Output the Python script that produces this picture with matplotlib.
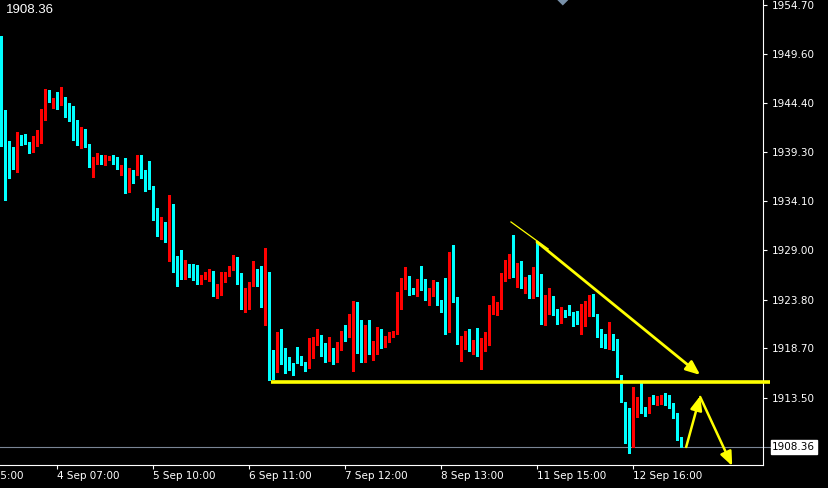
# XAUUSD H1 chart, MT4 style, with the support line and arrows drawn on it
import matplotlib
matplotlib.use("Agg")
import matplotlib.pyplot as plt
import matplotlib.transforms as mtransforms
from matplotlib.patches import Polygon

# H1 candles, oldest first
opens = [1949.77, 1943.69, 1939.91, 1938.76, 1938.03, 1940.96, 1940.86, 1940.23, 1939.28, 1940.33,
         1940.65, 1942.74, 1945.47, 1944.63, 1944.84, 1944.21, 1944.95, 1943.69, 1943.79, 1940.86,
         1940.33, 1941.59, 1939.91, 1938.13, 1938.24, 1938.76, 1938.34, 1938.55, 1938.66, 1938.24,
         1937.50, 1937.92, 1935.82, 1937.08, 1936.87, 1938.55, 1937.19, 1936.77, 1935.62, 1933.41,
         1930.69, 1931.11, 1930.48, 1933.83, 1927.86, 1927.54, 1925.97, 1927.33, 1926.60, 1926.07,
         1925.76, 1926.18, 1926.28, 1926.60, 1924.40, 1924.71, 1926.28, 1926.39, 1927.02, 1928.17,
         1926.07, 1922.93, 1924.71, 1925.24, 1926.60, 1925.45, 1923.14, 1926.70, 1918.32, 1916.74,
         1920.10, 1917.79, 1917.79, 1916.85, 1917.90, 1917.69, 1917.27, 1916.85, 1919.57, 1919.78,
         1919.89, 1918.95, 1917.48, 1918.53, 1918.32, 1918.84, 1920.31, 1919.99, 1921.78, 1923.35,
         1920.20, 1918.11, 1921.15, 1918.11, 1918.53, 1920.52, 1918.84, 1919.57, 1919.89, 1920.41,
         1923.66, 1925.87, 1925.97, 1925.03, 1924.40, 1925.66, 1925.34, 1924.08, 1924.61, 1925.24,
         1923.56, 1923.03, 1920.41, 1928.49, 1923.66, 1919.57, 1919.68, 1920.62, 1918.53, 1919.99,
         1918.32, 1918.84, 1920.10, 1922.30, 1922.62, 1923.14, 1926.28, 1927.44, 1927.75, 1926.18,
         1927.65, 1925.13, 1925.66, 1925.03, 1927.12, 1925.76, 1922.30, 1922.93, 1923.35, 1922.41,
         1921.57, 1922.51, 1922.72, 1922.30, 1921.67, 1921.36, 1921.67, 1922.83, 1923.66, 1922.20,
         1920.31, 1920.10, 1919.05, 1919.89, 1919.05, 1915.80, 1913.07, 1909.82, 1908.36, 1911.92,
         1912.45, 1912.34, 1911.92, 1913.49, 1912.97, 1912.97, 1913.49, 1912.97, 1912.66, 1911.50,
         1909.41]
highs = [1951.45, 1943.69, 1940.44, 1939.81, 1941.38, 1941.07, 1941.17, 1940.33, 1940.96, 1941.59,
         1943.79, 1945.89, 1945.78, 1944.95, 1945.58, 1946.10, 1945.05, 1944.42, 1944.11, 1942.64,
         1941.91, 1941.70, 1940.12, 1938.76, 1939.18, 1938.97, 1938.97, 1938.87, 1938.97, 1938.76,
         1937.92, 1938.66, 1937.61, 1937.40, 1938.97, 1938.97, 1937.40, 1938.34, 1935.72, 1933.41,
         1932.47, 1931.95, 1934.78, 1933.83, 1928.38, 1929.01, 1927.96, 1927.54, 1927.54, 1927.44,
         1926.39, 1926.70, 1927.02, 1926.81, 1925.45, 1926.70, 1926.70, 1927.33, 1928.49, 1928.28,
         1926.60, 1925.03, 1925.66, 1927.86, 1927.02, 1927.33, 1929.22, 1926.70, 1918.53, 1920.41,
         1920.73, 1918.74, 1917.79, 1917.17, 1918.84, 1917.90, 1917.27, 1919.78, 1919.89, 1920.73,
         1920.10, 1919.26, 1919.89, 1918.74, 1919.36, 1920.52, 1921.15, 1922.30, 1923.66, 1923.56,
         1921.67, 1921.15, 1921.67, 1919.47, 1920.94, 1920.73, 1919.99, 1920.41, 1920.52, 1924.61,
         1926.07, 1927.23, 1926.28, 1925.03, 1925.97, 1927.33, 1925.97, 1925.03, 1925.87, 1925.66,
         1923.77, 1926.07, 1928.80, 1929.53, 1924.08, 1919.99, 1920.52, 1920.73, 1919.57, 1920.83,
         1919.78, 1920.41, 1923.24, 1924.19, 1923.56, 1926.60, 1927.96, 1928.59, 1930.58, 1927.65,
         1927.86, 1926.18, 1926.39, 1927.23, 1929.85, 1926.49, 1924.29, 1925.03, 1924.19, 1922.83,
         1923.03, 1922.72, 1923.24, 1922.51, 1922.62, 1923.35, 1923.66, 1924.29, 1924.40, 1922.30,
         1920.73, 1920.20, 1921.46, 1920.20, 1919.68, 1915.91, 1913.07, 1912.45, 1914.65, 1913.60,
         1915.07, 1912.55, 1913.60, 1913.81, 1913.71, 1913.81, 1914.02, 1913.81, 1912.97, 1911.92,
         1909.41]
lows = [1939.91, 1934.25, 1936.56, 1937.50, 1937.19, 1940.02, 1940.12, 1939.18, 1939.28, 1939.91,
        1940.23, 1942.64, 1944.53, 1943.90, 1943.79, 1944.21, 1942.95, 1942.53, 1940.54, 1940.02,
        1939.70, 1939.81, 1937.71, 1936.66, 1938.03, 1938.03, 1937.92, 1938.45, 1938.03, 1937.50,
        1936.87, 1934.99, 1935.09, 1936.03, 1936.87, 1936.56, 1935.20, 1935.41, 1932.16, 1930.48,
        1930.16, 1929.85, 1927.86, 1926.70, 1925.24, 1925.97, 1925.97, 1926.18, 1925.87, 1925.45,
        1925.45, 1925.97, 1925.76, 1924.19, 1923.98, 1924.29, 1925.66, 1926.28, 1926.91, 1925.45,
        1922.83, 1922.51, 1922.83, 1925.24, 1925.24, 1923.03, 1921.15, 1915.38, 1915.49, 1916.22,
        1917.06, 1916.12, 1916.43, 1915.91, 1917.17, 1916.95, 1916.33, 1916.64, 1917.69, 1919.05,
        1917.90, 1917.27, 1917.37, 1917.06, 1917.27, 1918.53, 1919.47, 1919.89, 1916.33, 1918.21,
        1917.27, 1917.27, 1918.11, 1917.48, 1918.11, 1918.74, 1918.84, 1919.36, 1919.89, 1920.20,
        1922.83, 1924.92, 1924.29, 1924.40, 1924.19, 1924.82, 1923.77, 1923.24, 1924.19, 1923.24,
        1922.51, 1920.20, 1920.41, 1923.56, 1919.15, 1917.37, 1918.63, 1918.42, 1918.11, 1917.90,
        1916.54, 1918.42, 1919.05, 1922.30, 1922.20, 1922.83, 1925.76, 1926.07, 1926.18, 1925.13,
        1925.03, 1924.50, 1923.98, 1923.98, 1924.19, 1921.25, 1921.15, 1922.30, 1922.20, 1921.25,
        1921.36, 1921.99, 1922.20, 1921.04, 1921.25, 1920.20, 1921.04, 1922.09, 1922.09, 1919.89,
        1918.84, 1918.74, 1918.63, 1918.53, 1915.70, 1913.07, 1908.78, 1907.73, 1908.36, 1911.50,
        1911.92, 1911.61, 1911.92, 1912.86, 1912.76, 1912.86, 1912.76, 1912.45, 1911.40, 1909.09,
        1908.36]
closes = [1943.69, 1939.91, 1938.66, 1938.03, 1940.96, 1940.90, 1940.23, 1939.39, 1940.54, 1940.86,
          1942.74, 1945.47, 1944.63, 1944.84, 1944.21, 1944.84, 1943.58, 1943.60, 1940.75, 1940.23,
          1941.59, 1939.81, 1938.13, 1938.34, 1938.76, 1938.34, 1938.66, 1938.66, 1938.13, 1937.50,
          1937.92, 1935.72, 1937.08, 1936.98, 1938.66, 1936.98, 1936.66, 1935.51, 1933.31, 1930.69,
          1931.11, 1930.48, 1933.83, 1927.75, 1927.44, 1925.97, 1927.33, 1926.49, 1925.97, 1925.76,
          1926.07, 1926.49, 1926.60, 1924.50, 1924.82, 1926.39, 1926.60, 1927.23, 1928.17, 1925.97,
          1922.83, 1924.82, 1925.34, 1926.49, 1925.34, 1923.14, 1928.28, 1918.21, 1916.74, 1920.10,
          1917.69, 1917.58, 1916.74, 1916.33, 1917.58, 1917.17, 1916.85, 1919.68, 1919.89, 1919.99,
          1918.84, 1917.48, 1918.42, 1918.32, 1918.84, 1920.31, 1919.99, 1921.88, 1923.35, 1920.10,
          1918.11, 1921.15, 1918.11, 1918.53, 1920.52, 1918.84, 1919.78, 1919.99, 1920.52, 1923.77,
          1925.97, 1925.97, 1924.82, 1924.40, 1925.76, 1925.24, 1924.08, 1924.71, 1925.24, 1923.45,
          1922.93, 1920.41, 1928.49, 1923.56, 1919.57, 1919.89, 1920.52, 1918.53, 1919.26, 1918.32,
          1918.95, 1920.20, 1922.41, 1922.72, 1923.24, 1926.39, 1927.54, 1927.75, 1926.18, 1927.65,
          1925.13, 1925.66, 1924.92, 1927.12, 1925.66, 1922.30, 1922.93, 1923.35, 1922.30, 1921.57,
          1922.62, 1922.09, 1922.30, 1921.57, 1921.36, 1921.78, 1922.93, 1923.56, 1922.09, 1920.20,
          1919.99, 1918.95, 1919.89, 1918.95, 1915.70, 1913.07, 1909.82, 1909.20, 1911.92, 1912.45,
          1911.92, 1911.92, 1913.49, 1912.97, 1913.49, 1913.60, 1912.86, 1912.55, 1911.50, 1909.41,
          1908.36]

time_ticks = [-10, 14, 38, 62, 86, 110, 134, 158]
time_labels = ['1 Sep 05:00', '4 Sep 07:00', '5 Sep 10:00', '6 Sep 11:00', '7 Sep 12:00',
               '8 Sep 13:00', '11 Sep 15:00', '12 Sep 16:00']
price_ticks = [1954.70, 1949.60, 1944.40, 1939.30, 1934.10, 1929.00, 1923.80, 1918.70, 1913.50]
price_labels = ['1954.70', '1949.60', '1944.40', '1939.30', '1934.10', '1929.00', '1923.80',
                '1918.70', '1913.50']
last_price = 1908.36

# hand drawn objects, as (bar index, price)
support_level = 1915.22
support_from = 67.4
trend_line = [(127.4, 1931.95), (136.7, 1929.12)]
arrow_down = [(133.9, 1929.85), (174.7, 1915.91)]
arrow_up = [(171.2, 1908.36), (174.7, 1913.71)]
arrow_drop = [(174.7, 1913.60), (182.7, 1906.37)]

BULL = '#FF0000'
BEAR = '#00FFFF'
YELLOW = '#FFFF00'
BID_GREY = '#7A8595'

W, H = 829, 488
fig = plt.figure(figsize=(W / 100, H / 100), dpi=100, facecolor='black')
ax = fig.add_axes([0, 23 / H, 763 / W, 465 / H])
ax.set_facecolor('black')

idx = list(range(len(opens)))
colors = [BULL if c >= o else BEAR for o, c in zip(opens, closes)]
bottoms = [min(o, c) for o, c in zip(opens, closes)]
heights = [max(abs(c - o), 0.08) for o, c in zip(opens, closes)]

# wicks then bodies
ax.vlines(idx, lows, highs, colors=colors, linewidth=0.75, antialiased=False, zorder=2)
ax.bar(idx, heights, bottom=bottoms, width=0.75, color=colors, linewidth=0,
       antialiased=False, zorder=3)

ax.set_xlim(-0.33, 190.4)
ax.set_ylim(1906.47, 1955.22)

# bid line and its price box
ax.plot([-0.33, 192.3], [last_price, last_price], color=BID_GREY, lw=0.8,
        clip_on=False, zorder=1)
ax.text(1.012, last_price, f'{last_price:.2f}', transform=ax.get_yaxis_transform(),
        ha='left', va='center', fontsize=7.5, color='black', clip_on=False,
        bbox=dict(boxstyle='square,pad=0.15', fc='white', ec='white'), zorder=6)

# support line
ax.plot([support_from, 192.2], [support_level, support_level], color=YELLOW, lw=2.6,
        solid_capstyle='butt', clip_on=False, zorder=4)

# trend line and arrows
ax.plot(*zip(*trend_line), color=YELLOW, lw=0.9, zorder=4)
head = '-|>,head_length=0.6,head_width=0.25'
for (x0, y0), (x1, y1), lw in [(arrow_down[0], arrow_down[1], 2.0),
                               (arrow_up[0], arrow_up[1], 1.8),
                               (arrow_drop[0], arrow_drop[1], 1.8)]:
    ax.annotate('', xy=(x1, y1), xytext=(x0, y0), annotation_clip=False, zorder=5,
                arrowprops=dict(arrowstyle=head, color=YELLOW, lw=lw, mutation_scale=14,
                                shrinkA=0, shrinkB=0))

# axes look
for side in ['top', 'left']:
    ax.spines[side].set_visible(False)
for side in ['right', 'bottom']:
    ax.spines[side].set_color('white')
    ax.spines[side].set_linewidth(0.8)

ax.yaxis.tick_right()
ax.set_yticks(price_ticks, price_labels)
ax.tick_params(axis='y', colors='white', length=3, width=0.8, pad=3, labelsize=7.5)

vis_ticks = [t for t in time_ticks if t >= 0]
ax.set_xticks(vis_ticks, [''] * len(vis_ticks))
ax.tick_params(axis='x', colors='white', length=3, width=0.8)
xlab = mtransforms.blended_transform_factory(ax.transData, ax.transAxes)
for t, lab in zip(time_ticks, time_labels):
    ax.text(t, -0.024, lab, transform=xlab, ha='left', va='center', fontsize=7.5,
            color='white', clip_on=False)

# header price in the top left corner
fig.text(6 / W, 1 - 10 / H, f'{last_price:.2f}', ha='left', va='center', color='white',
         fontsize=9.5, family='Liberation Sans')

# small grey marker at top of the window
fig.add_artist(Polygon([(557.3 / W, 1.0), (568.3 / W, 1.0), (562.8 / W, 1 - 5.5 / H)],
                       closed=True, transform=fig.transFigure, fc='#7890A8', ec='none'))

fig.savefig('out.png', dpi=100, facecolor='black')
